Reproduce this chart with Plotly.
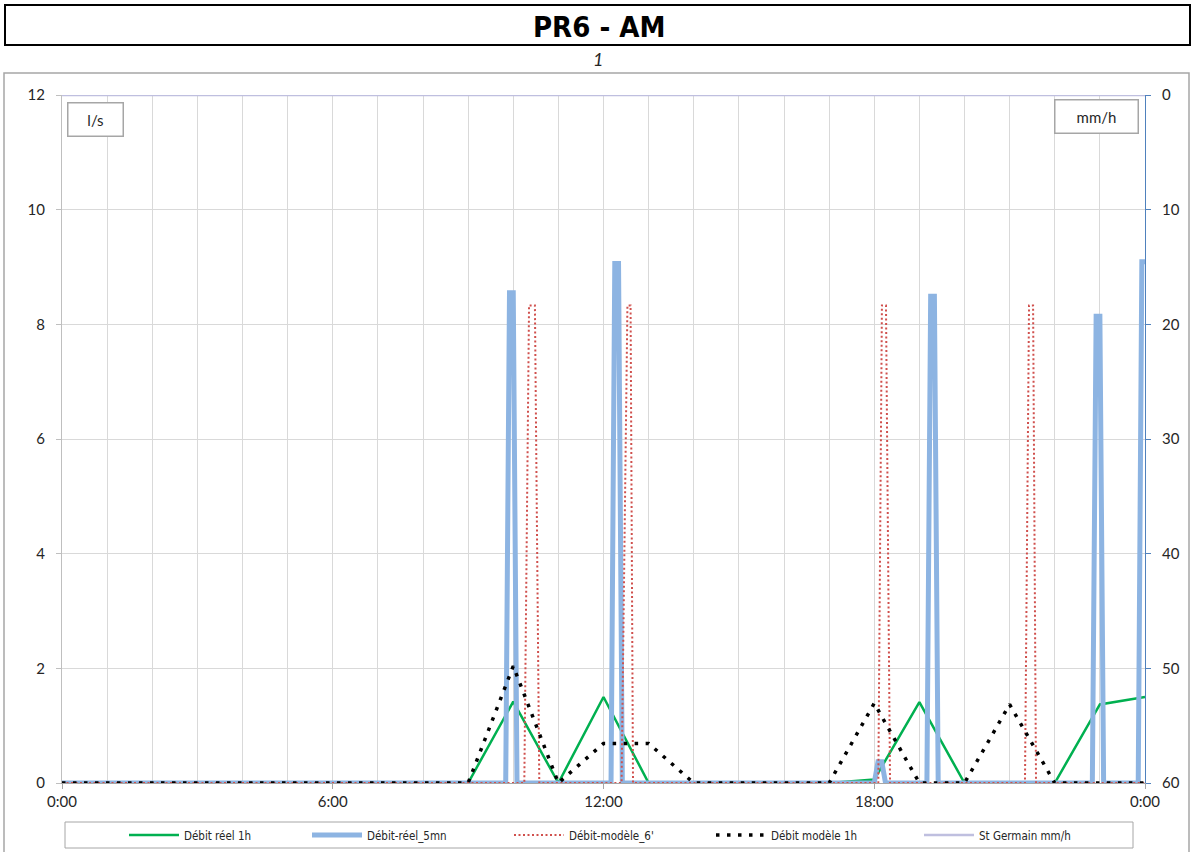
import plotly.graph_objects as go

# ---------------- data ----------------
hours = [0, 1, 2, 3, 4, 5, 6, 7, 8, 9, 10, 11, 12, 13, 14, 15, 16, 17, 18, 19, 20, 21, 22, 23, 24]
debit_reel_1h = [0, 0, 0, 0, 0, 0, 0, 0, 0, 0, 1.42, 0, 1.50, 0, 0, 0, 0, 0, 0.06, 1.41, 0, 0, 0, 1.37, 1.50]
debit_modele_1h = [0, 0, 0, 0, 0, 0, 0, 0, 0, 0, 2.04, 0, 0.69, 0.69, 0, 0, 0, 0, 1.39, 0, 0, 1.37, 0, 0, 0]
st_germain = [0, 0, 0, 0, 0, 0, 0, 0, 0, 0, 0, 0, 0, 0, 0, 0, 0, 0, 0, 0, 0, 0, 0, 0, 0]

# 5-minute measured flow (breakpoints, hours)
t_5mn = [0, 9.833, 9.917, 10.0, 10.083, 12.167, 12.25, 12.333, 12.417,
         18.0, 18.083, 18.167, 18.25, 19.167, 19.25, 19.333, 19.417,
         22.833, 22.917, 23.0, 23.083, 23.85, 23.93, 24.0]
v_5mn = [0, 0, 8.55, 8.55, 0, 0, 9.06, 9.06, 0,
         0, 0.37, 0.37, 0, 0, 8.49, 8.49, 0,
         0, 8.14, 8.14, 0, 0, 9.09, 9.09]

# 6-minute model flow (breakpoints, hours)
t_6min = [0, 10.245, 10.35, 10.48, 10.577, 12.40, 12.53, 12.60, 12.654,
          18.09, 18.17, 18.26, 18.35, 21.34, 21.43, 21.52, 21.585, 24.0]
v_6min = [0, 0, 8.33, 8.33, 0, 0, 8.33, 8.33, 0,
          0, 8.33, 8.33, 0, 0, 8.33, 8.33, 0, 0]

x_tickvals = [0, 6, 12, 18, 24]
x_ticktext = ["0:00", "6:00", "12:00", "18:00", "0:00"]
y_tickvals = [0, 2, 4, 6, 8, 10, 12]
y2_tickvals = [0, 10, 20, 30, 40, 50, 60]

# ---------------- layout helpers ----------------
L, R, T, B = 62, 1145, 95, 783
W, H = 1192, 852


def px(x):
    return (x - L) / (R - L)


def py(y):
    return (B - y) / (B - T)


TICKFONT = dict(family="Lato, Carlito, Liberation Sans, sans-serif", size=15, color="#262626")
LEGFONT = dict(family="Liberation Sans Narrow, DejaVu Sans Condensed, Arial Narrow, sans-serif", size=11.5, color="#262626")

fig = go.Figure()

fig.add_trace(go.Scatter(x=hours, y=debit_reel_1h, mode="lines", name="Débit réel 1h",
                         line=dict(color="#00B050", width=2.5), legend="legend"))
fig.add_trace(go.Scatter(x=t_5mn, y=v_5mn, mode="lines", name="Débit-réel_5mn",
                         line=dict(color="#8DB4E2", width=5), legend="legend2"))
fig.add_trace(go.Scatter(x=t_6min, y=v_6min, mode="lines", name="Débit-modèle_6'",
                         line=dict(color="#D0504D", width=2, dash="2px,2.5px"), legend="legend3"))
fig.add_trace(go.Scatter(x=hours, y=debit_modele_1h, mode="lines", name="Débit modèle 1h",
                         line=dict(color="#000000", width=3.5, dash="3.5px,7.5px"), legend="legend4"))
fig.add_trace(go.Scatter(x=hours, y=st_germain, mode="lines", name="St Germain mm/h", yaxis="y2",
                         line=dict(color="#BFBFDF", width=2.5), legend="legend5"))

leg_y = py(835)
leg_common = dict(orientation="h", yanchor="middle", y=leg_y, xanchor="left",
                  bgcolor="rgba(0,0,0,0)", borderwidth=0, font=LEGFONT, itemwidth=50)
legend_starts = [130, 313, 515, 717, 925]

fig.update_layout(
    width=W, height=H,
    margin=dict(l=L, r=W - R, t=T, b=H - B, autoexpand=False),
    paper_bgcolor="white", plot_bgcolor="white",
    showlegend=True,
    legend=dict(leg_common, x=px(legend_starts[0] - 6)),
    legend2=dict(leg_common, x=px(legend_starts[1] - 6)),
    legend3=dict(leg_common, x=px(legend_starts[2] - 6)),
    legend4=dict(leg_common, x=px(legend_starts[3] - 6)),
    legend5=dict(leg_common, x=px(legend_starts[4] - 6)),
    xaxis=dict(range=[0, 24], tickvals=x_tickvals, ticktext=x_ticktext,
               showgrid=True, gridcolor="#D9D9D9", gridwidth=1,
               minor=dict(dtick=1, showgrid=True, gridcolor="#D9D9D9", gridwidth=1, ticks=""),
               showline=True, linecolor="#A6A6A6", linewidth=1,
               ticks="outside", ticklen=5, tickcolor="#A6A6A6",
               tickfont=TICKFONT, zeroline=False, fixedrange=True),
    yaxis=dict(range=[0, 12], tickvals=y_tickvals, showgrid=True, gridcolor="#D9D9D9", gridwidth=1,
               showline=True, linecolor="#BFBFBF", linewidth=1,
               ticks="outside", ticklen=5, tickcolor="#BFBFBF",
               tickfont=TICKFONT, zeroline=False, ticklabelstandoff=8),
    yaxis2=dict(range=[60, 0], tickvals=y2_tickvals, overlaying="y", side="right",
                showgrid=False, showline=True, linecolor="#4F81BD", linewidth=1,
                ticks="outside", ticklen=5, tickcolor="#4F81BD",
                tickfont=TICKFONT, zeroline=False, ticklabelstandoff=8),
)

shapes = [
    # title box
    dict(type="rect", xref="paper", yref="paper", x0=px(5), x1=px(1190), y0=py(45), y1=py(5),
         line=dict(color="black", width=2), fillcolor="rgba(0,0,0,0)", layer="above"),
    # chart frame
    dict(type="rect", xref="paper", yref="paper", x0=px(4), x1=px(1189), y0=py(870), y1=py(73),
         line=dict(color="#A6A6A6", width=1.5), fillcolor="rgba(0,0,0,0)", layer="below"),
    # legend box
    dict(type="rect", xref="paper", yref="paper", x0=px(65), x1=px(1133), y0=py(848), y1=py(822),
         line=dict(color="#A6A6A6", width=1), fillcolor="rgba(0,0,0,0)", layer="above"),
]
fig.update_layout(shapes=shapes)

annotations = [
    dict(text="<b>PR6 - AM</b>", xref="paper", yref="paper", x=px(599), y=py(27),
         xanchor="center", yanchor="middle", showarrow=False,
         font=dict(family="Liberation Sans Narrow, DejaVu Sans Condensed, Arial Narrow, sans-serif", size=29, color="black")),
    dict(text="<i>1</i>", xref="paper", yref="paper", x=px(598), y=py(59),
         xanchor="center", yanchor="middle", showarrow=False,
         font=dict(family="Lato, Liberation Sans, sans-serif", size=18, color="#262626")),
    dict(text="l/s", xref="paper", yref="paper", x=px(95), y=py(120),
         xanchor="center", yanchor="middle", showarrow=False, width=54, height=32,
         bordercolor="#A6A6A6", borderwidth=1.5, borderpad=0, bgcolor="white",
         font=dict(family="Lato, Liberation Sans, sans-serif", size=15, color="#262626")),
    dict(text="mm/h", xref="paper", yref="paper", x=px(1096), y=py(117),
         xanchor="center", yanchor="middle", showarrow=False, width=82, height=32,
         bordercolor="#A6A6A6", borderwidth=1.5, borderpad=0, bgcolor="white",
         font=dict(family="Lato, Liberation Sans, sans-serif", size=15, color="#262626")),
]
fig.update_layout(annotations=annotations)

fig.write_html("out.html")
